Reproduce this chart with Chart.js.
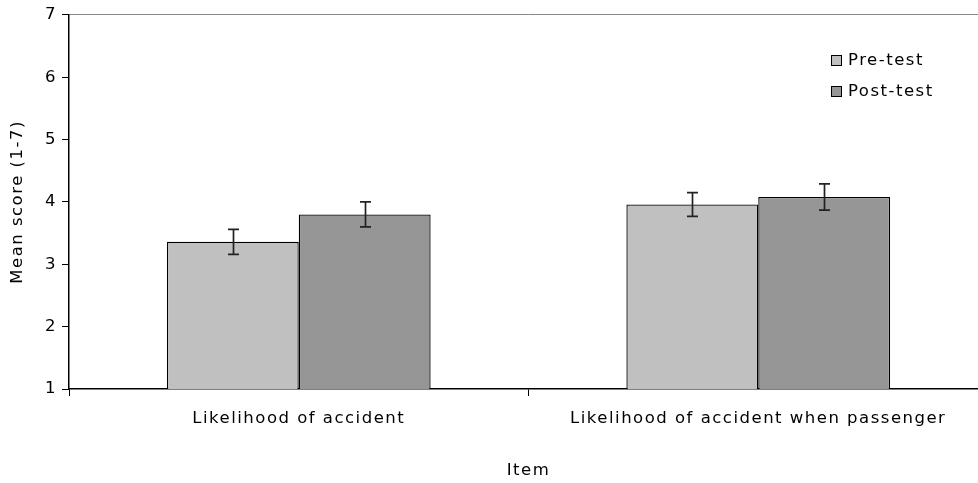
<!DOCTYPE html>
<html><head><meta charset="utf-8">
<script src="https://cdn.jsdelivr.net/npm/chart.js@4/dist/chart.umd.min.js"></script>
<style>html,body{margin:0;padding:0;overflow:hidden;background:#fff;width:978px;height:483px}canvas{display:block}</style>
</head><body>
<canvas id="c" width="990" height="483"></canvas>
<script>
const categories = ["Likelihood of accident", "Likelihood of accident when passenger"];
const preTest = [3.36, 3.96];
const postTest = [3.80, 4.08];
const preErr = [0.20, 0.19];
const postErr = [0.20, 0.21];
const yTicks = [1, 2, 3, 4, 5, 6, 7];
const FONT = "'DejaVu Sans', Verdana, sans-serif";
const FS = 16.5;
const SPACING = '1.5px';

const spacing = {
  id: 'spacing',
  beforeUpdate(chart) { chart.ctx.letterSpacing = SPACING; },
  beforeLayout(chart) { chart.ctx.letterSpacing = SPACING; },
  beforeDraw(chart) { chart.ctx.letterSpacing = SPACING; }
};

const errorBars = {
  id: 'errorBars',
  afterDatasetsDraw(chart) {
    const ctx = chart.ctx, y = chart.scales.y;
    const errs = [preErr, postErr];
    chart.data.datasets.forEach((ds, di) => {
      const meta = chart.getDatasetMeta(di);
      meta.data.forEach((bar, i) => {
        const v = ds.data[i], e = errs[di][i];
        const yt = y.getPixelForValue(v + e), yb = y.getPixelForValue(v - e);
        const x = Math.round(bar.x) + 0.5;
        ctx.save();
        ctx.strokeStyle = '#222'; ctx.lineWidth = 1.7;
        ctx.beginPath();
        ctx.moveTo(x, yt); ctx.lineTo(x, yb);
        ctx.moveTo(x - 5.5, yt); ctx.lineTo(x + 5.5, yt);
        ctx.moveTo(x - 5.5, yb); ctx.lineTo(x + 5.5, yb);
        ctx.stroke();
        ctx.restore();
      });
    });
  }
};

const legendBox = {
  id: 'legendBox',
  afterDraw(chart) {
    const ctx = chart.ctx;
    const items = chart.data.datasets;
    ctx.save();
    ctx.letterSpacing = SPACING;
    ctx.font = FS + 'px ' + FONT;
    ctx.textBaseline = 'middle';
    items.forEach((ds, i) => {
      const yc = 61 + i * 31;
      ctx.fillStyle = ds.backgroundColor;
      ctx.fillRect(831.5, yc - 5.5, 10, 10);
      ctx.strokeStyle = '#000'; ctx.lineWidth = 1;
      ctx.strokeRect(831.5, yc - 5.5, 10, 10);
      ctx.fillStyle = '#000';
      ctx.fillText(ds.label, 848, yc);
    });
    ctx.restore();
  }
};

new Chart(document.getElementById('c'), {
  type: 'bar',
  data: {
    labels: categories,
    datasets: [
      { label: 'Pre-test', data: preTest, backgroundColor: '#c0c0c0', borderColor: '#000', borderWidth: 1.3, barPercentage: 1, categoryPercentage: 0.574 },
      { label: 'Post-test', data: postTest, backgroundColor: '#969696', borderColor: '#000', borderWidth: 1.3, barPercentage: 1, categoryPercentage: 0.574 }
    ]
  },
  options: {
    responsive: false,
    animation: false,
    layout: { padding: { top: 14, right: 2, left: 0, bottom: 0 } },
    plugins: { legend: { display: false }, tooltip: { enabled: false } },
    scales: {
      x: {
        afterFit(s) { s.height = 94; },
        grid: { drawOnChartArea: false, tickLength: 7, tickColor: '#000', offset: true },
        border: { color: '#000', width: 1.5 },
        ticks: { color: '#000', font: { family: FONT, size: FS }, padding: 13, maxRotation: 0 },
        title: { display: true, text: 'Item', color: '#000', font: { family: FONT, size: FS }, padding: { top: 0, bottom: 2 } }
      },
      y: {
        min: 1, max: 7,
        afterFit(s) { s.width = 69; },
        afterBuildTicks(s) { s.ticks = yTicks.map(v => ({ value: v })); },
        grid: { drawOnChartArea: true, tickLength: 7, tickColor: '#000', color: c => (c.tick && c.tick.value === 7) ? '#888' : 'rgba(0,0,0,0)' },
        border: { color: '#000', width: 1.5 },
        ticks: { color: '#000', font: { family: FONT, size: FS }, padding: 5, stepSize: 1 },
        title: { display: true, text: 'Mean score (1-7)', color: '#000', font: { family: FONT, size: FS }, padding: { top: 8, bottom: 0 } }
      }
    }
  },
  plugins: [spacing, errorBars, legendBox]
});
</script>
</body></html>
